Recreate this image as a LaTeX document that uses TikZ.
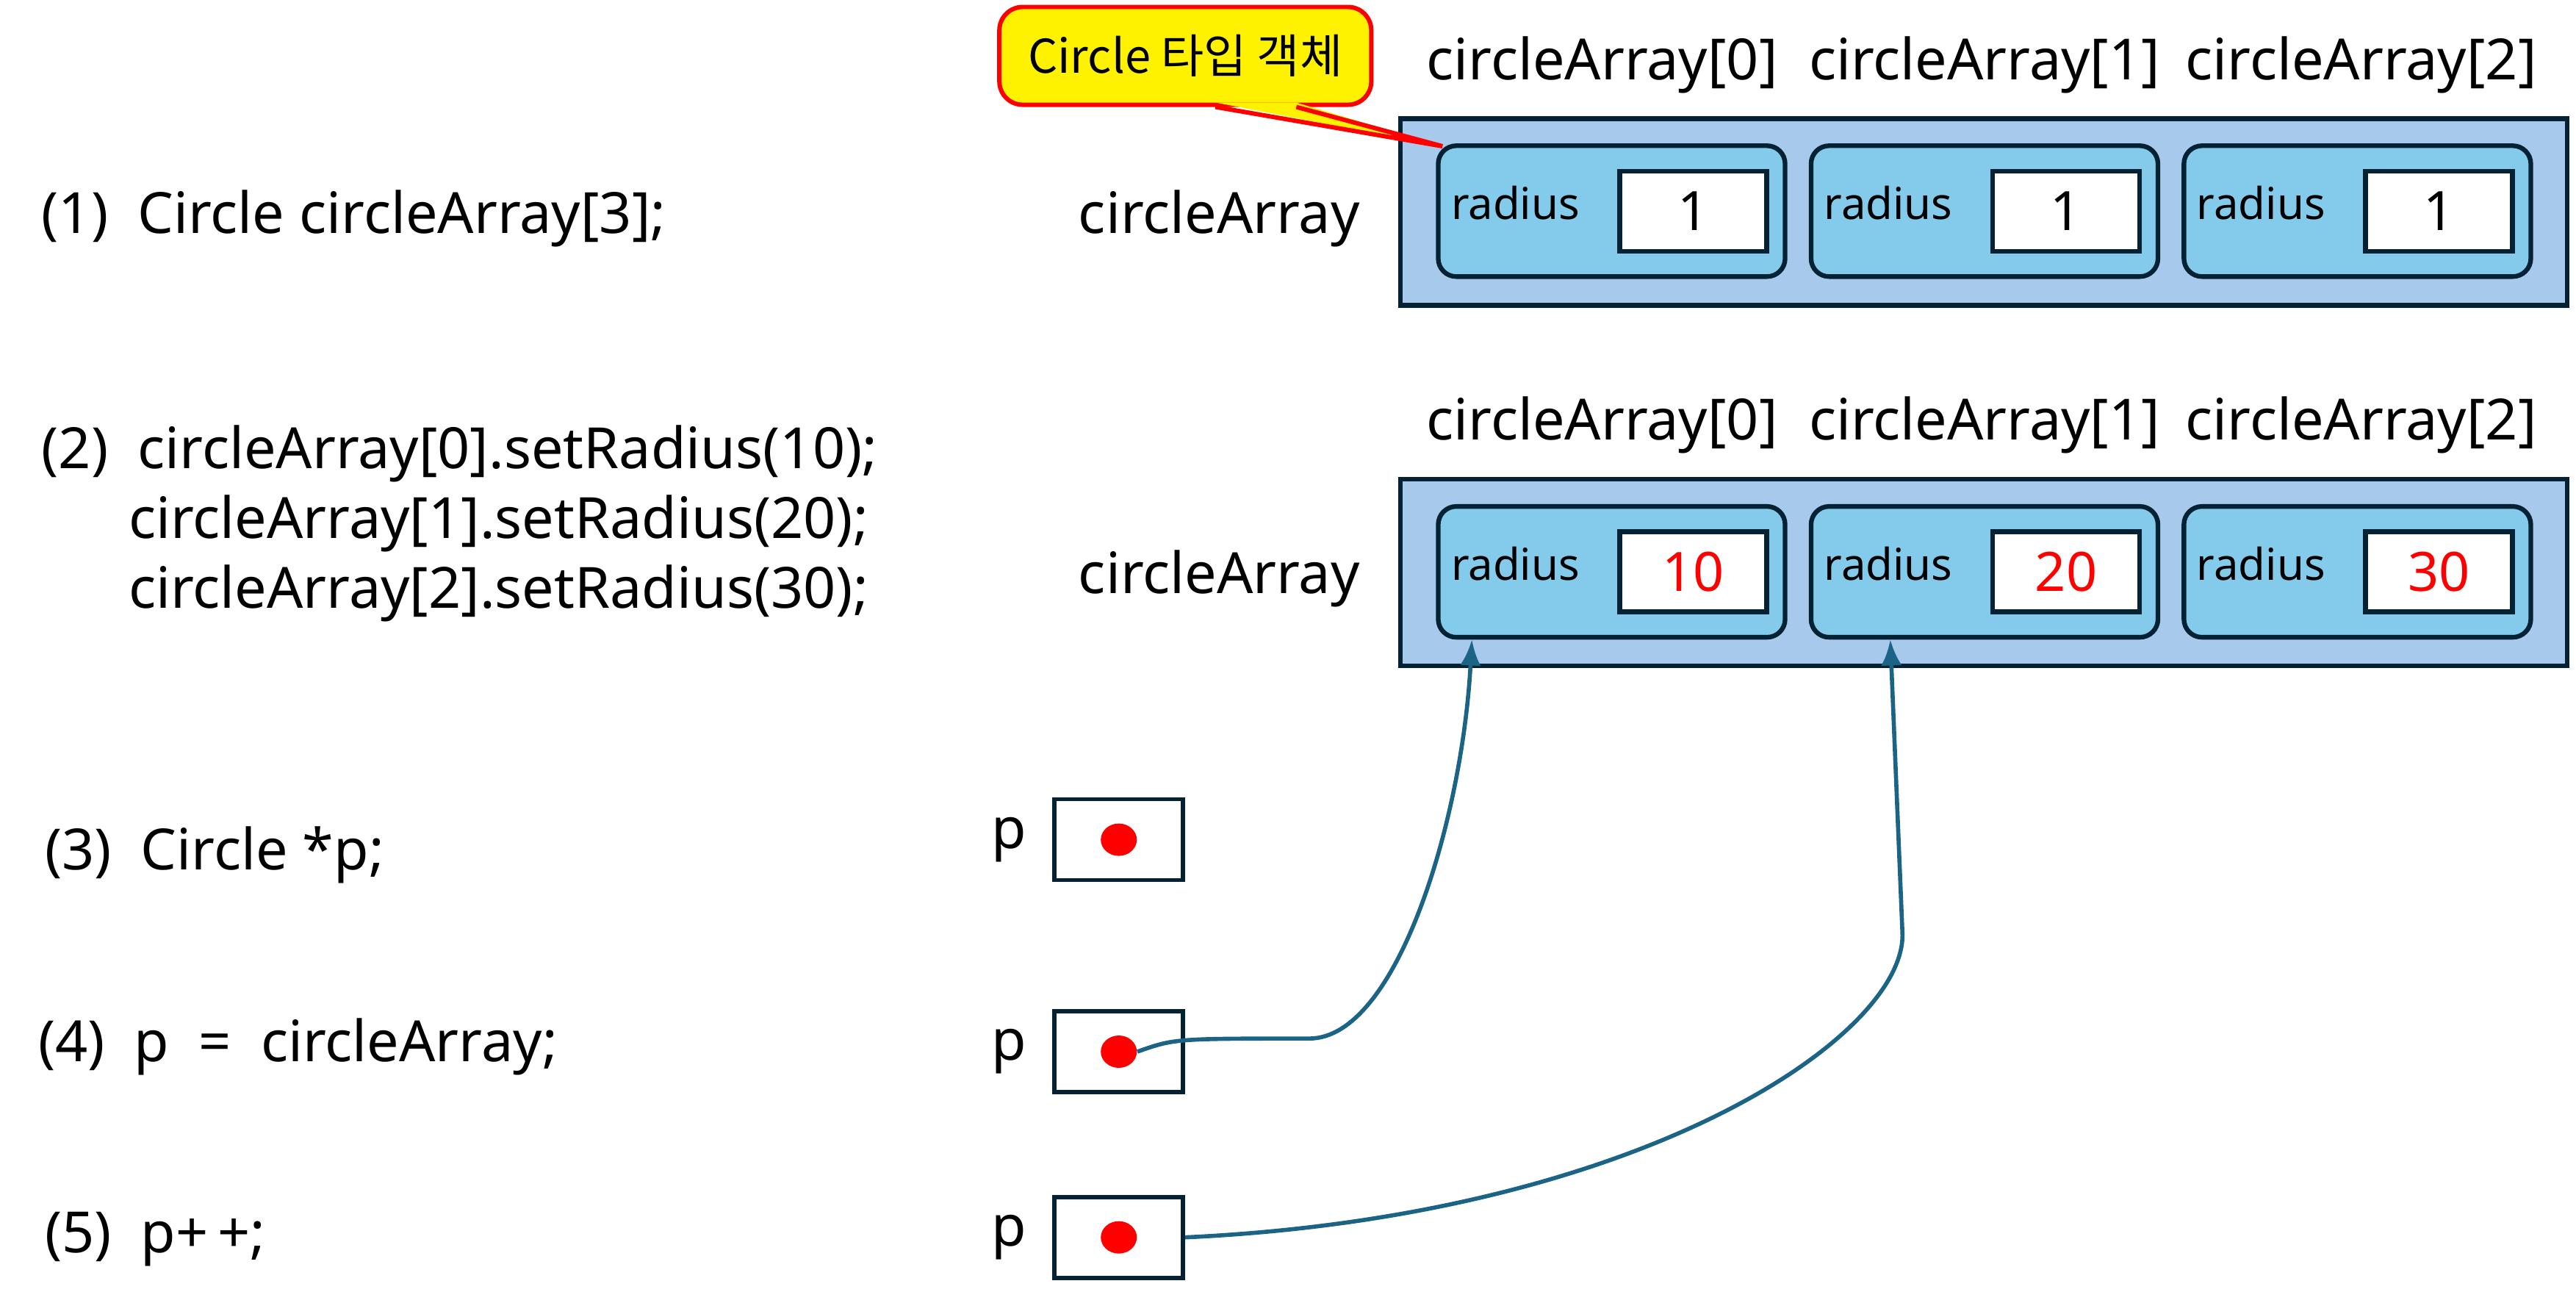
\documentclass[tikz,border=0pt]{standalone}
\usepackage{fontspec}
\setmainfont{Noto Sans}
\newfontfamily\kofont{Noto Sans CJK KR}
\usepackage{xcolor}
\usepackage{tikz}
\usetikzlibrary{positioning, shapes.geometric, arrows.meta}

\definecolor{boxline}{HTML}{042233}
\definecolor{arrayfill}{HTML}{A6C9EC}
\definecolor{cellfill}{HTML}{83CAEB}
\definecolor{ptrblue}{HTML}{1B6485}

\begin{document}
\begin{tikzpicture}[x=0.02236cm, y=-0.02236cm,
        code/.style={anchor=base west, inner sep=0pt, font=\fontsize{22}{26}\selectfont},
        headtext/.style={anchor=base, inner sep=0pt, font=\fontsize{22}{26}\selectfont},
        field/.style={anchor=base west, inner sep=0pt, font=\fontsize{17}{20}\selectfont},
        arraybox/.style={rectangle, draw=boxline, fill=arrayfill, line width=1.8pt, minimum width=15.88cm, minimum height=2.54cm},
        cellbox/.style={rectangle, draw=boxline, fill=cellfill, line width=1.8pt, rounded corners=7pt, minimum width=4.72cm, minimum height=1.78cm},
        valbox/.style={rectangle, draw=boxline, fill=white, line width=1.8pt, minimum width=2cm, minimum height=1.09cm, font=\fontsize{21}{25}\selectfont},
        ptrbox/.style={rectangle, draw=boxline, line width=1.6pt, minimum width=1.75cm, minimum height=1.1cm},
        reddot/.style={ellipse, fill=red, inner sep=0pt, minimum width=0.49cm, minimum height=0.44cm},
        note/.style={rectangle, rounded corners=9pt, draw=red, fill=yellow, line width=1.7pt, minimum width=5.06cm, minimum height=1.33cm, font=\kofont\fontsize{18}{22}\selectfont},
        line/.style={draw=ptrblue, line width=1.6pt, -{Latex[length=10pt, width=8pt]}}]
        \useasboundingbox (0,0) rectangle (1568,792.5);

        % Code
        \node [code] (code1) at (25,142) {(1)\ \ Circle circleArray[3];};
        \node [code] (code2a) at (25,285) {(2)\ \ circleArray[0].setRadius(10);};
        \node [code] (code2b) at (78,327.5) {circleArray[1].setRadius(20);};
        \node [code] (code2c) at (78,370) {circleArray[2].setRadius(30);};
        \node [code] (code3) at (27,529.5) {(3)\ \ Circle *p;};
        \node [code] (code4) at (23,646) {(4)\ \ p\ \ =\ \ circleArray;};
        \node [code] (code5) at (27,762.5) {(5)\ \ p+\,+;};

        % Array after (1)
        \node [arraybox] (arr1) at (1207.5,129) {};
        \node [cellbox] (c10) at (981,128.5) {};
        \node [cellbox, right=0.29cm of c10] (c11) {};
        \node [cellbox, right=0.29cm of c11] (c12) {};
        \node [valbox, left=0.25cm of c10.east] (v10) {1};
        \node [valbox, left=0.25cm of c11.east] (v11) {1};
        \node [valbox, left=0.25cm of c12.east] (v12) {1};
        \node [field] (r10) at ([xshift=0.2cm, yshift=-0.11cm]c10.west) {radius};
        \node [field] (r11) at ([xshift=0.2cm, yshift=-0.11cm]c11.west) {radius};
        \node [field] (r12) at ([xshift=0.2cm, yshift=-0.11cm]c12.west) {radius};
        \node [headtext] (h10) at ([xshift=-0.13cm, yshift=0.87cm]c10.north) {circleArray[0]};
        \node [headtext] (h11) at ([yshift=0.87cm]c11.north) {circleArray[1]};
        \node [headtext] (h12) at ([xshift=0.05cm, yshift=0.87cm]c12.north) {circleArray[2]};
        \node [headtext, anchor=base east] (name1) at (828,142) {circleArray};

        % Array after (2)
        \node [arraybox] (arr2) at (1207.5,348.5) {};
        \node [cellbox] (c20) at (981,348) {};
        \node [cellbox, right=0.29cm of c20] (c21) {};
        \node [cellbox, right=0.29cm of c21] (c22) {};
        \node [valbox, text=red, left=0.25cm of c20.east] (v20) {10};
        \node [valbox, text=red, left=0.25cm of c21.east] (v21) {20};
        \node [valbox, text=red, left=0.25cm of c22.east] (v22) {30};
        \node [field] (r20) at ([xshift=0.2cm, yshift=-0.11cm]c20.west) {radius};
        \node [field] (r21) at ([xshift=0.2cm, yshift=-0.11cm]c21.west) {radius};
        \node [field] (r22) at ([xshift=0.2cm, yshift=-0.11cm]c22.west) {radius};
        \node [headtext] (h20) at ([xshift=-0.13cm, yshift=0.87cm]c20.north) {circleArray[0]};
        \node [headtext] (h21) at ([yshift=0.87cm]c21.north) {circleArray[1]};
        \node [headtext] (h22) at ([xshift=0.05cm, yshift=0.87cm]c22.north) {circleArray[2]};
        \node [headtext, anchor=base east] (name2) at (828,361) {circleArray};

        % Pointer p
        \node [ptrbox] (p1) at (681,511) {};
        \node [ptrbox] (p2) at (681,640) {};
        \node [ptrbox] (p3) at (681,753) {};
        \node [reddot] (d1) at (p1.center) {};
        \node [reddot] (d2) at (p2.center) {};
        \node [reddot] (d3) at (p3.center) {};
        \node [headtext, anchor=east, left=0.35cm of p1] (pl1) {p};
        \node [headtext, anchor=east, left=0.35cm of p2] (pl2) {p};
        \node [headtext, anchor=east, left=0.35cm of p3] (pl3) {p};

        % Callout
        \node [note] (note) at (721.5,34) {Circle 타입 객체};
        \coordinate (tip) at (878,89);
        \fill [yellow] ([xshift=0.41cm, yshift=0.06cm]note.south) -- (tip) -- ([xshift=1.51cm, yshift=0.06cm]note.south) -- cycle;
        \draw [red, line width=1.7pt] ([xshift=0.41cm]note.south) -- (tip) -- ([xshift=1.51cm]note.south);

        % Arrows
        \coordinate (t1) at ([xshift=0.49cm]c20.south west);
        \coordinate (t2) at ([xshift=1.11cm]c21.south west);
        \path [line] (d2.east) .. controls (715,632) .. (797,632) .. controls (850,632) and (890,500) .. (t1);
        \path [line] (p3.east) .. controls (1000,740) and (1160,630) .. (1158,568) -- (t2);
\end{tikzpicture}
\end{document}
